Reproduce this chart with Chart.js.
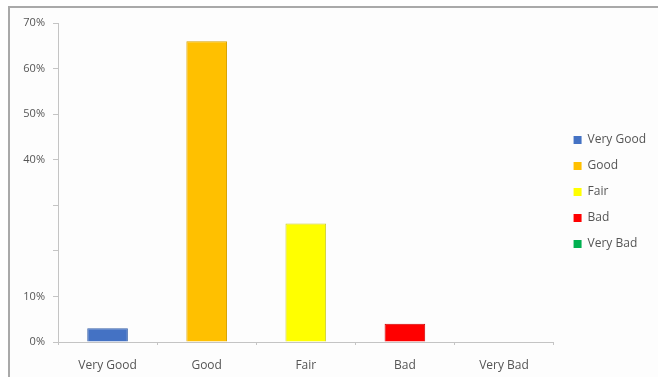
<!DOCTYPE html>
<html>
<head>
<meta charset="utf-8">
<script src="https://cdn.jsdelivr.net/npm/chart.js@4/dist/chart.umd.min.js"></script>
<style>
	html, body { margin: 0; padding: 0; background: #fff; }
	#frame {
		position: absolute; left: 8px; top: 6px;
		width: 650px; height: 371px;
		border-top: 2px solid #a9a9a9; border-left: 2px solid #a9a9a9;
		background: #fdfdfd;
	}
	#wrap { position: absolute; left: 0; top: 0; width: 648px; height: 369px; }
</style>
</head>
<body>
<div id="frame"><div id="wrap"><canvas id="myChart1"></canvas></div></div>
<script>
var categories = ["Very Good", "Good", "Fair", "Bad", "Very Bad"];
var shares = [3, 66, 26, 4, 0];
var barColors = ["#4472c4", "#ffc000", "#ffff00", "#ff0000", "#00b050"];
var edgeColors = ["#3a62a8", "#d9a400", "#cccc30", "#d00000", "#009040"];
var yTickLabels = ["0%", "10%", "", "", "40%", "50%", "60%", "70%"];

window.onload = function() {
	// move the legend column a little right and up, as in the source
	var legendNudge = {
		id: 'legendNudge',
		afterLayout: function(chart) {
			if (!chart.legend) return;
			chart.legend.left += 6;
			chart.legend.top -= 8;
			chart.legend.bottom -= 8;
		}
	};

	var ctx = document.getElementById("myChart1").getContext("2d");
	window.myBar = new Chart(ctx, {
		type: 'bar',
		data: {
			labels: categories,
			datasets: [{
				label: 'Share',
				data: shares,
				backgroundColor: barColors,
				borderColor: edgeColors,
				borderWidth: 1,
				barPercentage: 0.41,
				categoryPercentage: 1
			}]
		},
		options: {
			responsive: true,
			maintainAspectRatio: false,
			animation: false,
			layout: { padding: { top: 15, right: 8, bottom: 0, left: 0 } },
			plugins: {
				tooltip: { enabled: false },
				legend: {
					position: 'right',
					labels: {
						boxWidth: 8,
						boxHeight: 8,
						padding: 14,
						color: '#555',
						font: { family: 'Open Sans', size: 12 },
						generateLabels: function() {
							return categories.map(function(c, i) {
								return {
									text: c,
									fillStyle: barColors[i],
									strokeStyle: barColors[i],
									lineWidth: 0,
									fontColor: '#555',
									index: i
								};
							});
						}
					}
				}
			},
			scales: {
				x: {
					grid: { drawOnChartArea: false, tickLength: 3, color: '#c4c4c4' },
					border: { color: '#c4c4c4' },
					ticks: { color: '#555', padding: 13, font: { family: 'Open Sans', size: 12 } },
					afterFit: function(scale) { scale.height = 35; }
				},
				y: {
					min: 0,
					max: 70,
					grid: { drawOnChartArea: false, tickLength: 5, color: '#c4c4c4' },
					border: { color: '#c4c4c4' },
					ticks: {
						stepSize: 10,
						padding: 8,
						color: '#555',
						font: { family: 'Open Sans', size: 11 },
						callback: function(value, index) { return yTickLabels[index]; }
					},
					afterFit: function(scale) { scale.width = 48; }
				}
			}
		},
		plugins: [legendNudge]
	});
};
</script>
</body>
</html>
